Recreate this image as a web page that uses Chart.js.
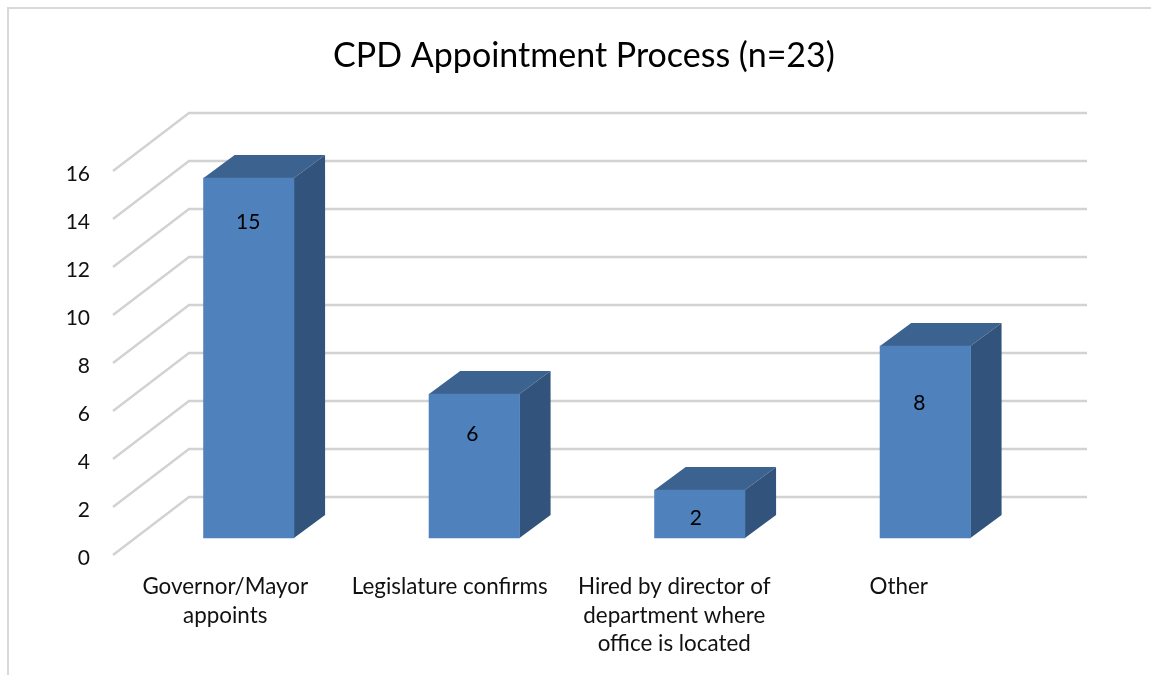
<!DOCTYPE html>
<html>
<head>
<meta charset="utf-8">
<script src="https://cdn.jsdelivr.net/npm/chart.js@4"></script>
<style>html,body{margin:0;padding:0;background:#fff;overflow:hidden}canvas{display:block}</style>
</head>
<body>
<canvas id="c" width="1151" height="675"></canvas>
<script>
const titleText = 'CPD Appointment Process (n=23)';
const categories = [
  ['Governor/Mayor', 'appoints'],
  ['Legislature confirms'],
  ['Hired by director of', 'department where', 'office is located'],
  ['Other']
];
const values = [15, 6, 2, 8];
const yMax = 16;
const yStep = 2;

const FONT = 'Lato, Carlito, Calibri, sans-serif';
const WALL = {dx: 76, dy: -58};
const BAR_FRONT = {dx: 23.5, dy: -17};
const BAR_DEPTH = {dx: 31, dy: -23};
const BAR_SPREAD = 225.5 / 224.5;
const LABEL_DROP = [43, 39, 27, 56];
const LABEL_NUDGE = [23, 22.5, 21.5, 20.5];

const depthPlugin = {
  id: 'depth',
  afterLayout(chart) {
    chart.titleBlock.left += 140;
  },
  beforeDraw(chart) {
    const {ctx, scales: {x, y}} = chart;
    ctx.save();
    ctx.strokeStyle = '#d9d9d9';
    ctx.lineWidth = 2;
    ctx.beginPath();
    ctx.moveTo(8, 675); ctx.lineTo(8, 8); ctx.lineTo(1151, 8);
    ctx.stroke();
    ctx.strokeStyle = '#d2d2d2';
    ctx.lineWidth = 2.4;
    y.ticks.forEach(t => {
      const py = y.getPixelForValue(t.value);
      ctx.beginPath();
      ctx.moveTo(x.left, py);
      ctx.lineTo(x.left + WALL.dx, py + WALL.dy);
      ctx.lineTo(x.right + WALL.dx, py + WALL.dy);
      ctx.stroke();
    });
    ctx.restore();
  },
  beforeDatasetsDraw(chart) {
    const {ctx, scales} = chart;
    const cx = scales.x.getPixelForValue(0);
    ctx.save();
    ctx.translate(BAR_FRONT.dx + cx, BAR_FRONT.dy);
    ctx.scale(BAR_SPREAD, 1);
    ctx.translate(-cx, 0);
    chart.getDatasetMeta(0).data.forEach(b => {
      const {x, y, base, width} = b.getProps(['x', 'y', 'base', 'width'], true);
      const l = x - width / 2, r = x + width / 2;
      ctx.fillStyle = '#3c6290';
      ctx.beginPath();
      ctx.moveTo(l, y);
      ctx.lineTo(l + BAR_DEPTH.dx, y + BAR_DEPTH.dy);
      ctx.lineTo(r + BAR_DEPTH.dx, y + BAR_DEPTH.dy);
      ctx.lineTo(r, y);
      ctx.closePath();
      ctx.fill();
      ctx.fillStyle = '#32547c';
      ctx.beginPath();
      ctx.moveTo(r, y);
      ctx.lineTo(r + BAR_DEPTH.dx, y + BAR_DEPTH.dy);
      ctx.lineTo(r + BAR_DEPTH.dx, base + BAR_DEPTH.dy);
      ctx.lineTo(r, base);
      ctx.closePath();
      ctx.fill();
    });
  },
  afterDatasetsDraw(chart) {
    const {ctx} = chart;
    ctx.restore();
    ctx.save();
    ctx.fillStyle = '#000';
    ctx.font = '21px ' + FONT;
    ctx.textAlign = 'center';
    ctx.textBaseline = 'middle';
    chart.getDatasetMeta(0).data.forEach((b, i) => {
      const {x, y} = b.getProps(['x', 'y'], true);
      ctx.fillText(String(values[i]), x + LABEL_NUDGE[i], y + BAR_FRONT.dy + LABEL_DROP[i] + 1);
    });
    ctx.restore();
  }
};

new Chart(document.getElementById('c'), {
  type: 'bar',
  data: {
    labels: categories,
    datasets: [{data: values, backgroundColor: '#4f81bd', barThickness: 90, clip: false}]
  },
  plugins: [depthPlugin],
  options: {
    responsive: false,
    animation: false,
    layout: {padding: {left: 17, right: 140, top: 0, bottom: 0}},
    plugins: {
      legend: {display: false},
      tooltip: {enabled: false},
      title: {
        display: true,
        text: titleText,
        color: '#000',
        font: {family: FONT, size: 34, weight: 'normal', lineHeight: 1.2},
        padding: {top: 36, bottom: 94.2}
      }
    },
    scales: {
      x: {
        grid: {display: false, drawTicks: false},
        border: {display: false},
        afterFit(s) { s.height = 120; s.paddingLeft = 0; s.paddingRight = 0; },
        ticks: {
          color: '#111',
          font: {family: FONT, size: 22.4, lineHeight: 1.27},
          padding: 18,
          maxRotation: 0,
          autoSkip: false
        }
      },
      y: {
        min: 0,
        max: yMax,
        grid: {display: false, drawTicks: false},
        border: {display: false},
        afterFit(s) { s.width = 96; s.paddingTop = 0; s.paddingBottom = 0; },
        ticks: {
          stepSize: yStep,
          color: '#111',
          font: {family: FONT, size: 21},
          padding: 23,
          labelOffset: 3
        }
      }
    }
  }
});
</script>
</body>
</html>
